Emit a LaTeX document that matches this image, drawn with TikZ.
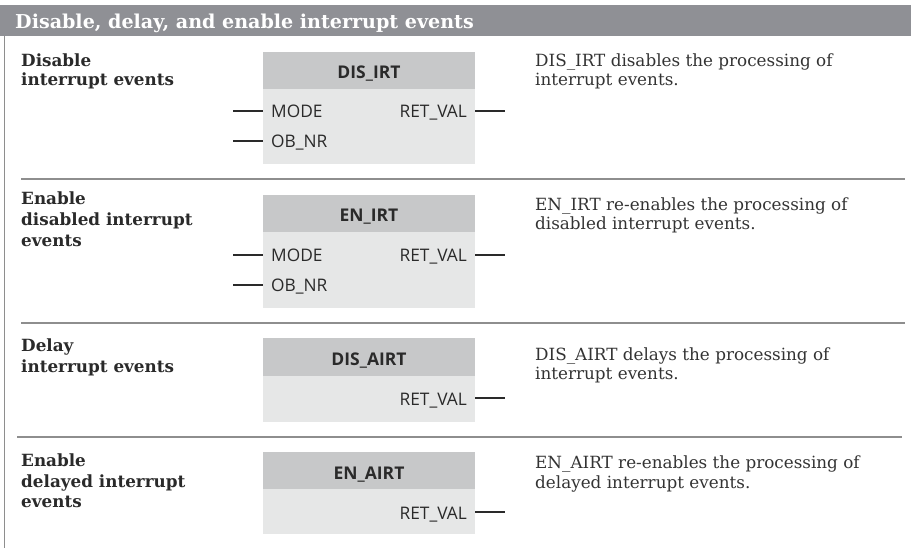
\documentclass[tikz,border=0pt]{standalone}
\usepackage{fontspec}
\setmainfont{DejaVu Serif}
\newfontfamily\pinfont{Open Sans}
\definecolor{barcol}{HTML}{8F9095}
\definecolor{hdrcol}{HTML}{C7C8C9}
\definecolor{bodycol}{HTML}{E6E7E7}
\definecolor{sepcol}{HTML}{8E8E8E}
\definecolor{txtcol}{HTML}{2A2A2A}
\definecolor{desccol}{HTML}{333333}
\tikzset{
  x=1pt, y=-1pt,
  lbl/.style={anchor=base west, inner sep=0pt, text=txtcol, font=\fontsize{16.8}{20}\selectfont\bfseries},
  desc/.style={anchor=base west, inner sep=0pt, text=desccol, font=\fontsize{16.8}{19}\selectfont},
  boxbody/.style={anchor=north west, inner sep=0pt, fill=bodycol, minimum width=212pt},
  boxhead/.style={anchor=north west, inner sep=0pt, fill=hdrcol, minimum width=212pt},
  fbname/.style={anchor=base, inner sep=0pt, text=txtcol, font=\fontsize{17.5}{19}\selectfont\pinfont\bfseries},
  pinl/.style={anchor=base west, inner sep=0pt, text=txtcol, font=\fontsize{17.3}{19}\selectfont\pinfont},
  pinr/.style={anchor=base east, inner sep=0pt, text=txtcol, font=\fontsize{17.3}{19}\selectfont\pinfont},
  wire/.style={draw=txtcol, line width=1.1pt},
  sepline/.style={draw=sepcol, line width=1.3pt},
}
\begin{document}
\begin{tikzpicture}
\useasboundingbox (0,0) rectangle (911,548);
% title bar
\fill[barcol] (0,5) rectangle (911,36);
\node[anchor=base west, inner sep=0pt, text=white, font=\fontsize{19.1}{22}\selectfont\bfseries] (title) at (15,29) {Disable, delay, and enable interrupt events};
% left border
\draw[sepcol, line width=1.5pt] (4.5,36) -- (4.5,548);
% separators
\coordinate (s1a) at (21,179); \coordinate (s1b) at (905,179);
\coordinate (s2a) at (21,323); \coordinate (s2b) at (905,323);
\coordinate (s3a) at (17,437); \coordinate (s3b) at (902,437);
\draw[sepline] (s1a) -- (s1b);
\draw[sepline] (s2a) -- (s2b);
\draw[sepline] (s3a) -- (s3b);

% ---------- Section 1 ----------
\node[lbl] (l1a) at (21,67) {Disable};
\node[lbl] (l1b) at (21,86) {interrupt events};
\node[boxbody, minimum height=112pt] (b1) at (263,52) {};
\node[boxhead, minimum height=37pt] (h1) at (263,52) {};
\node[fbname] (n1) at (369,79) {DIS\_IRT};
\node[pinl] (p1a) at (271,118) {MODE};
\node[pinl] (p1b) at (271,148) {OB\_NR};
\node[pinr] (p1c) at (467,118) {RET\_VAL};
\coordinate (w1a) at (233,111);
\coordinate (w1b) at (233,141);
\coordinate (w1c) at (505,111);
\draw[wire] (w1a) -- (w1a -| b1.west);
\draw[wire] (w1b) -- (w1b -| b1.west);
\draw[wire] (w1c -| b1.east) -- (w1c);
\node[desc] (d1a) at (535,67) {DIS\_IRT disables the processing of};
\node[desc] (d1b) at (535,86) {interrupt events.};

% ---------- Section 2 ----------
\node[lbl] (l2a) at (21,205) {Enable};
\node[lbl] (l2b) at (21,226) {disabled interrupt};
\node[lbl] (l2c) at (21,247) {events};
\node[boxbody, minimum height=113pt] (b2) at (263,195) {};
\node[boxhead, minimum height=37pt] (h2) at (263,195) {};
\node[fbname] (n2) at (369,222) {EN\_IRT};
\node[pinl] (p2a) at (271,262) {MODE};
\node[pinl] (p2b) at (271,292) {OB\_NR};
\node[pinr] (p2c) at (467,262) {RET\_VAL};
\coordinate (w2a) at (233,255);
\coordinate (w2b) at (233,285);
\coordinate (w2c) at (505,255);
\draw[wire] (w2a) -- (w2a -| b2.west);
\draw[wire] (w2b) -- (w2b -| b2.west);
\draw[wire] (w2c -| b2.east) -- (w2c);
\node[desc] (d2a) at (535,211) {EN\_IRT re-enables the processing of};
\node[desc] (d2b) at (535,230) {disabled interrupt events.};

% ---------- Section 3 ----------
\node[lbl] (l3a) at (21,352) {Delay};
\node[lbl] (l3b) at (21,372) {interrupt events};
\node[boxbody, minimum height=84pt] (b3) at (263,338) {};
\node[boxhead, minimum height=38pt] (h3) at (263,338) {};
\node[fbname] (n3) at (369,365) {DIS\_AIRT};
\node[pinr] (p3c) at (467,405) {RET\_VAL};
\coordinate (w3c) at (505,398);
\draw[wire] (w3c -| b3.east) -- (w3c);
\node[desc] (d3a) at (535,360) {DIS\_AIRT delays the processing of};
\node[desc] (d3b) at (535,379) {interrupt events.};

% ---------- Section 4 ----------
\node[lbl] (l4a) at (21,466) {Enable};
\node[lbl] (l4b) at (21,487) {delayed interrupt};
\node[lbl] (l4c) at (21,507) {events};
\node[boxbody, minimum height=82pt] (b4) at (263,452) {};
\node[boxhead, minimum height=37pt] (h4) at (263,452) {};
\node[fbname] (n4) at (369,479) {EN\_AIRT};
\node[pinr] (p4c) at (467,519) {RET\_VAL};
\coordinate (w4c) at (505,512);
\draw[wire] (w4c -| b4.east) -- (w4c);
\node[desc] (d4a) at (535,468) {EN\_AIRT re-enables the processing of};
\node[desc] (d4b) at (535,488) {delayed interrupt events.};
\end{tikzpicture}
\end{document}
